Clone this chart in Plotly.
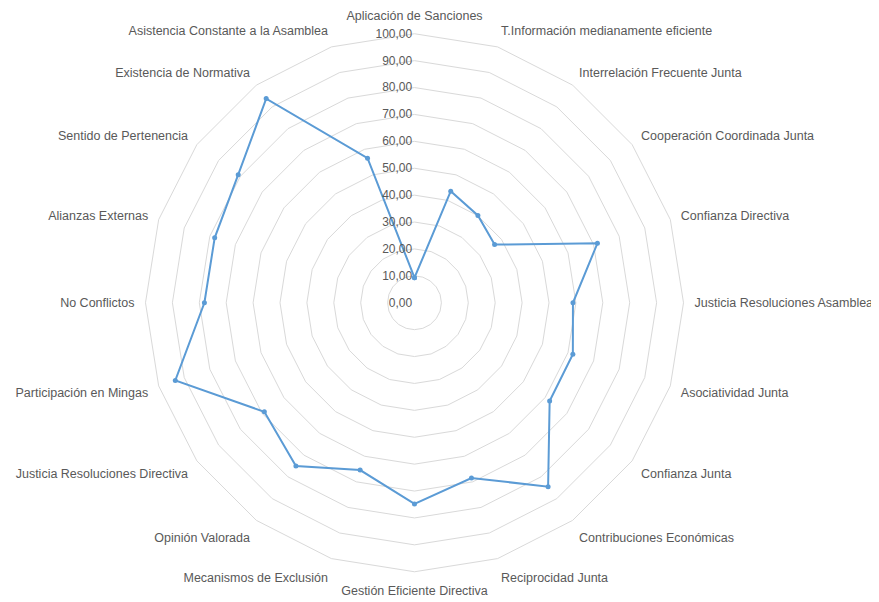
import plotly.graph_objects as go

categories = [
    "Aplicación de Sanciones",
    "T.Información medianamente eficiente",
    "Interrelación Frecuente Junta",
    "Cooperación Coordinada Junta",
    "Confianza Directiva",
    "Justicia Resoluciones Asamblea",
    "Asociatividad Junta",
    "Confianza Junta",
    "Contribuciones Económicas",
    "Reciprocidad Junta",
    "Gestión Eficiente Directiva",
    "Mecanismos de Exclusión",
    "Opinión Valorada",
    "Justicia Resoluciones Directiva",
    "Participación en Mingas",
    "No Conflictos",
    "Alianzas Externas",
    "Sentido de Pertenencia",
    "Existencia de Normativa",
    "Asistencia Constante a la Asamblea",
]
values = [9.3, 43.6, 40.1, 36.8, 71.5, 58.9, 61.9, 62.1, 84.5, 68.5,
          74.8, 65.4, 75.0, 69.0, 93.5, 78.1, 78.1, 81.0, 93.8, 56.5]
radial_ticks = [0, 10, 20, 30, 40, 50, 60, 70, 80, 90, 100]

fig = go.Figure()
fig.add_trace(go.Scatterpolar(
    r=values + values[:1],
    theta=categories + categories[:1],
    mode="lines+markers",
    line=dict(color="#5B9BD5", width=2),
    marker=dict(color="#5B9BD5", size=5),
    showlegend=False,
))

fig.update_layout(
    width=871, height=594,
    margin=dict(l=0, r=0, t=0, b=0),
    paper_bgcolor="white",
    separators=",.",
    font=dict(family="Liberation Sans, Arial, sans-serif", color="#595959", size=12.5),
    polar=dict(
        domain=dict(x=[0.15786, 0.77555], y=[0.04966, 0.95791]),
        bgcolor="white",
        gridshape="linear",
        angularaxis=dict(
            direction="clockwise",
            rotation=90,
            showgrid=False,
            showline=True,
            linecolor="#d9d9d9",
            linewidth=1,
            ticks="outside",
            ticklen=8,
            tickcolor="rgba(0,0,0,0)",
            tickfont=dict(size=12.5, color="#595959"),
        ),
        radialaxis=dict(
            range=[0, 100],
            tickvals=radial_ticks,
            tickformat=".2f",
            angle=90,
            tickangle=90,
            side="counterclockwise",
            showline=False,
            showgrid=True,
            gridcolor="#d9d9d9",
            gridwidth=1,
            ticks="",
            tickfont=dict(size=12, color="#595959"),
        ),
    ),
)

fig.write_html("out.html")
